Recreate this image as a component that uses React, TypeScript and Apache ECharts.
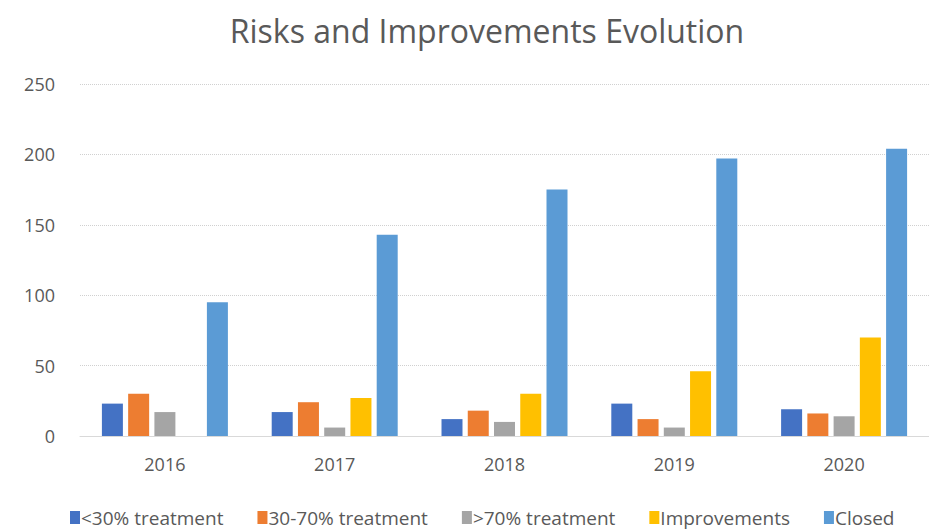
import React, { useEffect, useRef } from "react";
import * as echarts from "echarts";

const years = ["2016", "2017", "2018", "2019", "2020"];
const lt30 = [23, 17, 12, 23, 19];
const mid = [30, 24, 18, 12, 16];
const gt70 = [17, 6, 10, 6, 14];
const improvements = [0, 27, 30, 46, 70];
const closed = [95, 143, 175, 197, 204];

const seriesNames = ["<30% treatment", "30-70% treatment", ">70% treatment", "Improvements", "Closed"];
const seriesData = [lt30, mid, gt70, improvements, closed];
const colors = ["#4472C4", "#ED7D31", "#A5A5A5", "#FFC000", "#5B9BD5"];

export default function App() {
  const ref = useRef<HTMLDivElement>(null);
  useEffect(() => {
    if (!ref.current) return;
    const chart = echarts.init(ref.current, undefined, { renderer: "svg" });
    const font = "'Open Sans', 'Liberation Sans', sans-serif";
    chart.setOption({
      animation: false,
      color: colors,
      title: {
        text: "Risks and Improvements Evolution",
        left: 482,
        top: 9,
        textAlign: "center",
        textStyle: { fontFamily: font, fontSize: 32, fontWeight: "normal", color: "#595959" },
      },
      legend: {
        bottom: 3,
        left: 70,
        width: 900,
        padding: 0,
        itemWidth: 10,
        itemHeight: 13,
        itemGap: 34,
        icon: "rect",
        textStyle: {
          fontFamily: font,
          fontSize: 19,
          lineHeight: 19,
          color: "#595959",
          padding: [0, 0, 0, -4],
        },
        data: seriesNames,
      },
      grid: { left: 80, right: -11, top: 84, bottom: 94, containLabel: false },
      xAxis: {
        type: "category",
        data: years,
        axisLine: { lineStyle: { color: "#d9d9d9" } },
        axisTick: { show: false },
        axisLabel: { fontFamily: font, fontSize: 18, color: "#595959", margin: 19 },
      },
      yAxis: {
        type: "value",
        min: 0,
        max: 250,
        interval: 50,
        axisLine: { show: false },
        axisTick: { show: false },
        splitLine: { lineStyle: { color: "#d0d0d0", type: "dotted" } },
        axisLabel: { fontFamily: font, fontSize: 18, color: "#595959", margin: 25 },
      },
      series: seriesNames.map((n, i) => ({
        name: n,
        type: "bar",
        data: seriesData[i],
        barWidth: 21,
        barGap: "25%",
      })),
    });
    return () => chart.dispose();
  }, []);
  return (
    <div
      ref={ref}
      style={{ position: "absolute", left: 0, top: 0, width: 929, height: 530 }}
    />
  );
}
